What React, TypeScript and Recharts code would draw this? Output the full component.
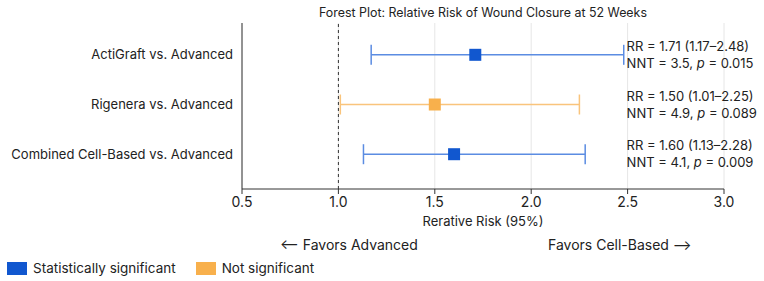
import React from 'react';
import { ScatterChart, Scatter, XAxis, YAxis, CartesianGrid, ReferenceLine, ErrorBar, Label } from 'recharts';

const comparisons = ['ActiGraft vs. Advanced', 'Rigenera vs. Advanced', 'Combined Cell-Based vs. Advanced'];
const rr = [1.71, 1.5, 1.6];
const ciLow = [1.17, 1.01, 1.13];
const ciHigh = [2.48, 2.25, 2.28];
const nnt = [3.5, 4.9, 4.1];
const pValues = ['0.015', '0.089', '0.009'];
const significant = [true, false, true];
const xTicks = [0.5, 1.0, 1.5, 2.0, 2.5, 3.0];

const FONT = 'Inter, "Noto Sans", sans-serif';
const TEXT = '#222';
const BLUE = '#1157cf';
const BLUE_LINE = '#5b8ce2';
const ORANGE = '#f8b04c';
const ORANGE_LINE = '#f9c47c';
const ANNOT_X = 2.5; // annotations start at the 2.5 gridline

const rows = comparisons.map((name, i) => ({
  row: i,
  rr: rr[i],
  err: [rr[i] - ciLow[i], ciHigh[i] - rr[i]],
  sig: significant[i],
}));
const sigRows = rows.filter((r) => r.sig);
const nsRows = rows.filter((r) => !r.sig);
const annotRows = comparisons.map((_, i) => ({ row: i, rr: ANNOT_X, idx: i }));

const Square = (color: string) => (props: any) => {
  const { cx, cy } = props;
  if (cx == null || cy == null) return null;
  return <rect x={cx - 6} y={cy - 6} width={12} height={12} fill={color} />;
};

const Annotation = (props: any) => {
  const { cx, cy, payload } = props;
  if (cx == null || cy == null) return null;
  const i = payload.idx;
  return (
    <g fontFamily={FONT} fontSize={13} fill={TEXT}>
      <text x={cx - 1} y={cy - 9} dominantBaseline="central">
        RR = {rr[i].toFixed(2)} ({ciLow[i].toFixed(2)}–{ciHigh[i].toFixed(2)})
      </text>
      <text x={cx - 1} y={cy + 8} dominantBaseline="central">
        NNT = {nnt[i].toFixed(1)}, <tspan fontStyle="italic">p</tspan> = {pValues[i]}
      </text>
    </g>
  );
};

export default function App() {
  return (
    <div style={{ position: 'absolute', left: 0, top: 0, width: 764, height: 281, fontFamily: FONT, color: TEXT }}>
      <ScatterChart width={764} height={281} margin={{ top: 23, right: 40, left: 0, bottom: 56 }}>
        <text x={483} y={12} textAnchor="middle" dominantBaseline="central" fontFamily={FONT} fontSize={12.4} fill={TEXT}>
          Forest Plot: Relative Risk of Wound Closure at 52 Weeks
        </text>
        <CartesianGrid horizontal={false} stroke="#e6e6e6" />
        <XAxis
          type="number"
          dataKey="rr"
          domain={[0.5, 3]}
          ticks={xTicks}
          tickFormatter={(v: number) => v.toFixed(1)}
          stroke="#333"
          tickSize={5}
          tickMargin={3}
          height={36}
          tick={{ fill: TEXT, fontSize: 14, fontFamily: FONT }}
        >
          <Label value="Rerative Risk (95%)" position="insideBottom" offset={-1} fill={TEXT} fontSize={13} fontFamily={FONT} />
        </XAxis>
        <YAxis
          type="number"
          dataKey="row"
          domain={[-0.64, 2.7]}
          ticks={[0, 1, 2]}
          reversed
          width={242}
          stroke="#333"
          tickLine={false}
          tickSize={0}
          tickMargin={9}
          tickFormatter={(i: number) => comparisons[i]}
          tick={{ fill: TEXT, fontSize: 13, fontFamily: FONT }}
        />
        <ReferenceLine x={1} stroke="#333" strokeDasharray="3 3" />
        <Scatter data={sigRows} dataKey="rr" shape={Square(BLUE)} isAnimationActive={false}>
          <ErrorBar dataKey="err" direction="x" width={10} stroke={BLUE_LINE} strokeWidth={1.5} />
        </Scatter>
        <Scatter data={nsRows} dataKey="rr" shape={Square(ORANGE)} isAnimationActive={false}>
          <ErrorBar dataKey="err" direction="x" width={10} stroke={ORANGE_LINE} strokeWidth={1.5} />
        </Scatter>
        <Scatter data={annotRows} dataKey="rr" shape={Annotation} isAnimationActive={false} />
      </ScatterChart>
      <div style={{ position: 'absolute', top: 236, left: 280, fontSize: 14, lineHeight: '18px', whiteSpace: 'nowrap' }}>
        ⟵ Favors Advanced
      </div>
      <div style={{ position: 'absolute', top: 236, left: 548, fontSize: 14, lineHeight: '18px', whiteSpace: 'nowrap' }}>
        Favors Cell-Based ⟶
      </div>
      <div style={{ position: 'absolute', top: 259, left: 7, display: 'flex', alignItems: 'center', fontSize: 13.5, lineHeight: '18px', whiteSpace: 'nowrap' }}>
        <span style={{ display: 'inline-block', width: 20, height: 13, background: BLUE, marginRight: 6 }} />
        <span>Statistically significant</span>
        <span style={{ display: 'inline-block', width: 20, height: 13, background: ORANGE, marginLeft: 20, marginRight: 6 }} />
        <span>Not significant</span>
      </div>
    </div>
  );
}
